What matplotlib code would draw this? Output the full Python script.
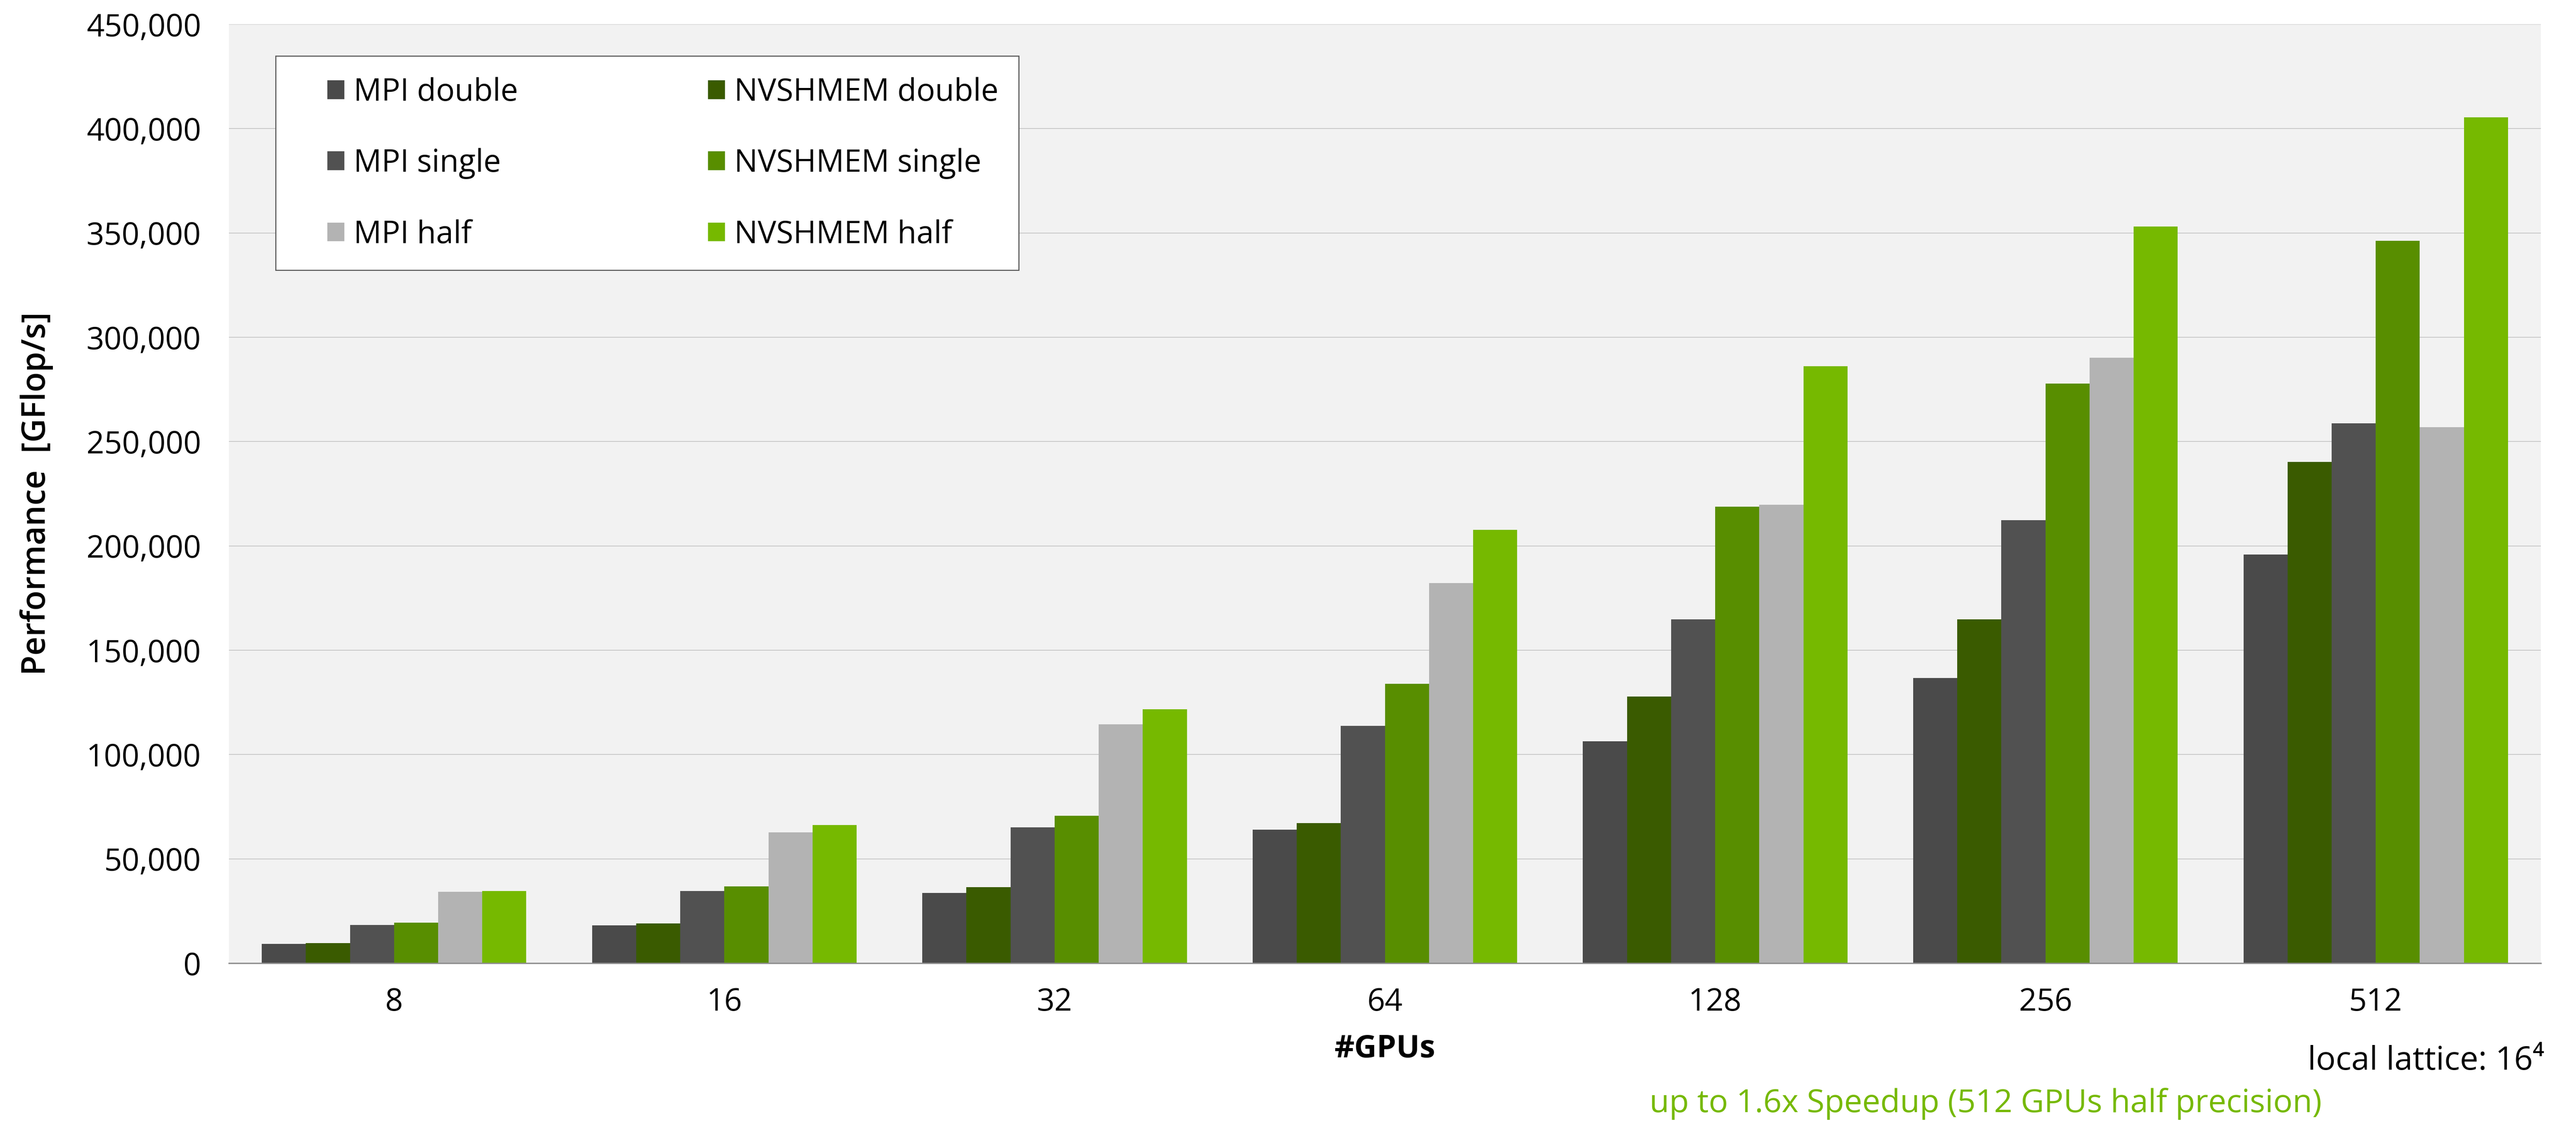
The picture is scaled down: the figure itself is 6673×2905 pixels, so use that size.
import numpy as np
import matplotlib
matplotlib.use("Agg")
import matplotlib.pyplot as plt
from matplotlib.patches import Rectangle
from matplotlib.ticker import FuncFormatter, MultipleLocator

plt.rcParams['font.family'] = ['Open Sans', 'DejaVu Sans']

# data (GFlop/s)
gpus = ["8", "16", "32", "64", "128", "256", "512"]
mpi_double = [9240, 18090, 33650, 64020, 106390, 136740, 195800]
nvshmem_double = [9610, 19140, 36520, 67140, 127740, 164820, 240170]
mpi_single = [18390, 34570, 65100, 113740, 164780, 212250, 258770]
nvshmem_single = [19400, 36730, 70650, 134000, 218820, 277850, 346170]
mpi_half = [34290, 62650, 114430, 182150, 219760, 290280, 256910]
nvshmem_half = [34570, 66170, 121700, 207650, 286090, 353130, 405420]

series = [
    ("MPI double", mpi_double, "#4a4a4a"),
    ("NVSHMEM double", nvshmem_double, "#3a5b00"),
    ("MPI single", mpi_single, "#515151"),
    ("NVSHMEM single", nvshmem_single, "#588e00"),
    ("MPI half", mpi_half, "#b3b3b3"),
    ("NVSHMEM half", nvshmem_half, "#76b900"),
]

W, H, DPI = 6673, 2905, 100
fig = plt.figure(figsize=(W / DPI, H / DPI), dpi=DPI)
ax = fig.add_axes([593 / W, 1 - 2496 / H, (6582 - 593) / W, (2496 - 63) / H])
ax.set_facecolor("#f2f2f2")

fs = 58
x = np.arange(len(gpus))
bw = 0.1335
handles = {}
for i, (name, vals, col) in enumerate(series):
    b = ax.bar(x + (i - 2.5) * bw, vals, bw, color=col, linewidth=0, zorder=3, label=name)
    handles[name] = b

ax.set_xlim(-0.5, len(gpus) - 0.5)
ax.set_ylim(0, 450000)
ax.yaxis.set_major_locator(MultipleLocator(50000))
ax.yaxis.set_major_formatter(FuncFormatter(lambda v, p: f"{int(v):,}"))
ax.set_xticks(x)
ax.set_xticklabels(gpus)
ax.tick_params(axis="both", length=0, labelsize=fs)
ax.tick_params(axis="y", pad=52)
ax.tick_params(axis="x", pad=44)
ax.grid(axis="y", color="#c6c6c6", linewidth=1.5, zorder=0)
ax.set_axisbelow(True)
for s in ["top", "right", "left"]:
    ax.spines[s].set_visible(False)
ax.spines["bottom"].set_color("#8c8c8c")
ax.spines["bottom"].set_linewidth(2.5)
ax.spines["bottom"].set_zorder(4)

ax.set_ylabel("Performance  [GFlop/s]", fontsize=61, fontweight="semibold", labelpad=62)
ax.set_xlabel("#GPUs", fontsize=fs, fontweight="bold", labelpad=30)

# legend box
frame = Rectangle((714 / W, 1 - 700 / H), 1925 / W, 555 / H, transform=fig.transFigure,
                  facecolor="white", edgecolor="#595959", linewidth=2, zorder=6)
fig.patches.append(frame)

order = ["MPI double", "MPI single", "MPI half", "NVSHMEM double", "NVSHMEM single", "NVSHMEM half"]
leg = fig.legend([handles[n] for n in order], order, ncol=2, fontsize=fs,
                 loc="center left", bbox_to_anchor=(848 / W, 1 - 424 / H),
                 borderaxespad=0, borderpad=0, frameon=False,
                 handlelength=0.55, handleheight=0.55, handletextpad=0.3,
                 labelspacing=1.29, columnspacing=6.1)
leg.set_zorder(7)

fig.text(6591 / W, 1 - 2772 / H, "local lattice: 16\u2074", fontsize=61,
         ha="right", va="baseline")
fig.text(4273 / W, 1 - 2882 / H, "up to 1.6x Speedup (512 GPUs half precision)",
         fontsize=60, color="#76b900", ha="left", va="baseline")

fig.savefig("out.png", dpi=DPI)
